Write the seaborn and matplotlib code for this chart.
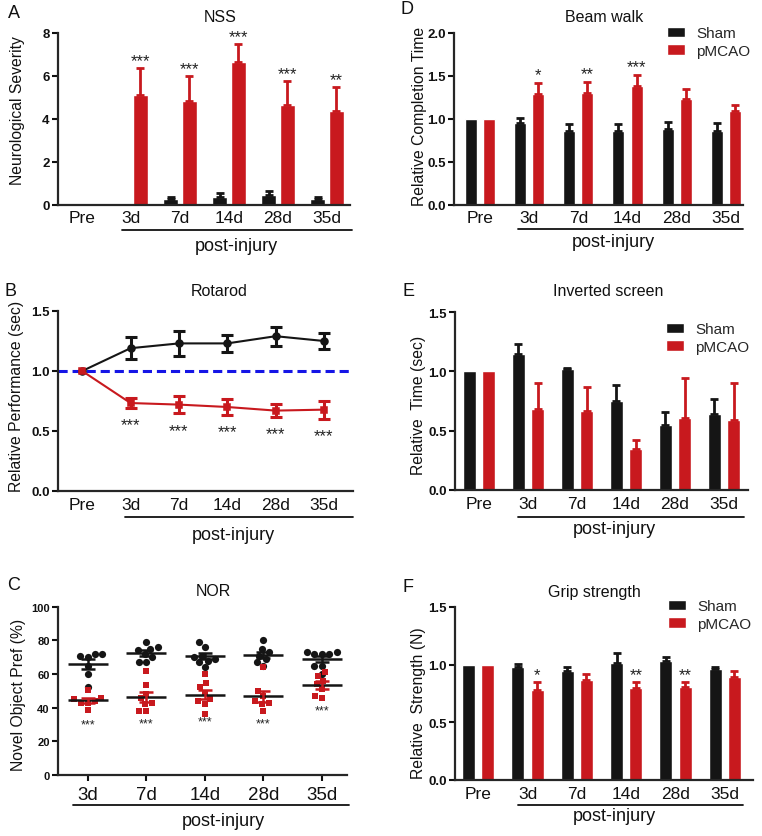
import numpy as np
import pandas as pd
import matplotlib
matplotlib.use("Agg")
import matplotlib.pyplot as plt
import seaborn as sns

# ---------- data ----------
times = ["Pre", "3d", "7d", "14d", "28d", "35d"]
groups = ["Sham", "pMCAO"]

# A: NSS (mean, +SEM)
nss_sham = [0, 0, 0.26, 0.34, 0.45, 0.26]
nss_sham_err = [0, 0, 0.08, 0.19, 0.17, 0.08]
nss_mcao = [0, 5.12, 4.84, 6.63, 4.64, 4.35]
nss_mcao_err = [0, 1.23, 1.14, 0.85, 1.11, 1.12]
nss_stars = ["", "***", "***", "***", "***", "**"]

# B: Rotarod
rota_sham = [1.0, 1.19, 1.23, 1.23, 1.29, 1.25]
rota_sham_err = [0, 0.093, 0.105, 0.07, 0.08, 0.07]
rota_mcao = [1.0, 0.733, 0.72, 0.70, 0.67, 0.678]
rota_mcao_err = [0, 0.04, 0.074, 0.067, 0.055, 0.075]
rota_stars = ["", "***", "***", "***", "***", "***"]

# C: NOR individual animals
nor_times = ["3d", "7d", "14d", "28d", "35d"]
nor_sham = {
    "3d": [72, 72, 71, 70, 65, 60, 52],
    "7d": [76, 75, 74, 79, 67, 67, 72, 70],
    "14d": [79, 76, 71, 70, 69, 64, 68, 67],
    "28d": [80, 75, 73, 71, 69, 67, 65],
    "35d": [73, 73, 72, 72, 65, 60, 65, 72],
}
nor_mcao = {
    "3d": [50.5, 46, 45, 44, 43, 43, 38.5],
    "7d": [62, 53.5, 48, 45.5, 43, 42, 38, 38],
    "14d": [60, 54.5, 52, 49, 45, 44, 42, 36],
    "28d": [64, 50, 47, 44, 43, 42, 38],
    "35d": [61, 59, 56, 54, 51, 47, 46],
}
nor_stars = ["***", "***", "***", "***", "***"]

# D: Beam walk
beam_sham = [1.0, 0.948, 0.862, 0.862, 0.878, 0.862]
beam_sham_err = [0, 0.065, 0.078, 0.078, 0.09, 0.093]
beam_mcao = [1.0, 1.29, 1.297, 1.38, 1.227, 1.087]
beam_mcao_err = [0, 0.124, 0.128, 0.13, 0.117, 0.07]
beam_stars = ["", "*", "**", "***", "", ""]

# E: Inverted screen
inv_sham = [1.0, 1.15, 1.02, 0.75, 0.547, 0.637]
inv_sham_err = [0, 0.08, 0.01, 0.135, 0.107, 0.13]
inv_mcao = [1.0, 0.68, 0.668, 0.344, 0.603, 0.59]
inv_mcao_err = [0, 0.22, 0.198, 0.076, 0.341, 0.315]

# F: Grip strength
grip_sham = [1.0, 0.977, 0.948, 1.015, 1.035, 0.963]
grip_sham_err = [0, 0.029, 0.029, 0.085, 0.03, 0.014]
grip_mcao = [1.0, 0.783, 0.87, 0.80, 0.81, 0.89]
grip_mcao_err = [0, 0.064, 0.05, 0.047, 0.037, 0.059]
grip_stars = ["", "*", "", "**", "**", ""]

BLACK = "#151515"
RED = "#c8191e"
BLUE = "#1515e6"
pal = {"Sham": BLACK, "pMCAO": RED}

sns.set_theme(style="ticks", rc={"axes.linewidth": 1.6})
plt.rcParams["font.family"] = ["Liberation Sans", "DejaVu Sans"]

W, H = 762, 837
fig = plt.figure(figsize=(W / 100, H / 100), dpi=100)


def make_ax(left, right, top, bottom):
    return fig.add_axes([left / W, 1 - bottom / H, (right - left) / W, (bottom - top) / H])


def style_ax(ax, yticks, ylabels, ylabel, lab_xy, xtick_len=0, ysize=9.5, xsize=12.5):
    sns.despine(ax=ax)
    ax.set_yticks(yticks, ylabels, fontweight="bold", fontsize=ysize)
    ax.set_ylim(yticks[0], yticks[-1])
    ax.tick_params(axis="y", length=4, width=1.5, pad=2, colors="#111111")
    ax.tick_params(axis="x", length=xtick_len, width=1.5, labelsize=xsize, pad=4, colors="#111111")
    ax.set_xlabel("")
    ax.set_ylabel(ylabel, fontsize=11.3, color="#111111")
    ax.yaxis.label.set_va("center")
    ax.yaxis.set_label_coords(*lab_xy)


def post_injury(ax, x0, x1, y_line, x_txt, y_txt):
    trans = ax.get_xaxis_transform()
    ax.plot([x0, x1], [y_line, y_line], color="#111111", lw=1.3, transform=trans, clip_on=False)
    ax.text(x_txt, y_txt, "post-injury", transform=trans, ha="center", va="center",
            fontsize=13, color="#111111")


def bar_panel(ax, sham, sham_err, mcao, mcao_err, width, gap, legend=False):
    df = pd.DataFrame({
        "time": times * 2,
        "group": [groups[0]] * len(times) + [groups[1]] * len(times),
        "value": sham + mcao,
    })
    sns.barplot(data=df, x="time", y="value", hue="group", hue_order=groups, palette=pal,
                width=width, gap=gap, errorbar=None, saturation=1, legend=legend, ax=ax)
    tops = []
    for cont, errs, col in zip(ax.containers, [sham_err, mcao_err], [BLACK, RED]):
        xs = [b.get_x() + b.get_width() / 2 for b in cont]
        hs = [b.get_height() for b in cont]
        keep = [i for i, e in enumerate(errs) if e > 0]
        ax.errorbar([xs[i] for i in keep], [hs[i] for i in keep],
                    yerr=[[0] * len(keep), [errs[i] for i in keep]],
                    fmt="none", ecolor=col, elinewidth=2, capsize=3.2, capthick=2)
        tops.append((xs, [h + e for h, e in zip(hs, errs)]))
    return tops


def stars(ax, xs, ys, labels, dy, size=12):
    for x, y, s in zip(xs, ys, labels):
        if s:
            ax.text(x, y + dy, s, ha="center", va="center", fontsize=size, color="#222222")


def legend_at(ax, x, y):
    sns.move_legend(ax, "upper left", bbox_to_anchor=(x, y), frameon=False, title=None,
                    borderaxespad=0, borderpad=0, fontsize=11, handlelength=1.2,
                    handleheight=0.65, handletextpad=0.7, labelspacing=0.25)


# ---------- A: NSS ----------
axA = make_ax(58, 350, 34, 205.7)
topsA = bar_panel(axA, nss_sham, nss_sham_err, nss_mcao, nss_mcao_err, 0.76, 0.2)
axA.set_xlim(-0.49, 5.47)
style_ax(axA, [0, 2, 4, 6, 8], ["0", "2", "4", "6", "8"], "Neurological Severity", (-0.137, 0.557))
stars(axA, topsA[1][0], topsA[1][1], nss_stars, 0.36)
post_injury(axA, 0.82, 5.51, -0.147, 3.16, -0.24)

# ---------- B: Rotarod ----------
axB = make_ax(58, 353, 312, 492)
dfB = pd.DataFrame({
    "time": times * 2,
    "group": [groups[0]] * len(times) + [groups[1]] * len(times),
    "value": rota_sham + rota_mcao,
})
axB.axhline(1.0, color=BLUE, lw=2.2, dashes=(3, 1.6), zorder=1)
sns.pointplot(data=dfB, x="time", y="value", hue="group", hue_order=groups, palette=pal,
              markers=["o", "s"], markersize=5, linewidth=1.5, errorbar=None,
              legend=False, ax=axB)
for vals, errs, col in [(rota_sham, rota_sham_err, BLACK), (rota_mcao, rota_mcao_err, RED)]:
    keep = [i for i, e in enumerate(errs) if e > 0]
    axB.errorbar(keep, [vals[i] for i in keep], yerr=[errs[i] for i in keep], fmt="none",
                 ecolor=col, elinewidth=2.2, capsize=4, capthick=2.2, zorder=4)
axB.set_xlim(-0.5, 5.6)
style_ax(axB, [0, 0.5, 1.0, 1.5], ["0.0", "0.5", "1.0", "1.5"], "Relative Performance (sec)",
         (-0.139, 0.53))
stars(axB, range(len(times)), [m - e for m, e in zip(rota_mcao, rota_mcao_err)], rota_stars,
      -0.14)
post_injury(axB, 0.89, 5.6, -0.144, 3.12, -0.239)

# ---------- C: NOR ----------
axC = make_ax(58, 347, 607.7, 776)
rows = []
for g, d in [("Sham", nor_sham), ("pMCAO", nor_mcao)]:
    for t in nor_times:
        for v in d[t]:
            rows.append({"time": t, "group": g, "value": v})
dfC = pd.DataFrame(rows)
sns.swarmplot(data=dfC[dfC.group == "Sham"], x="time", y="value", order=nor_times,
              color=BLACK, marker="o", size=5.2, linewidth=0, ax=axC, zorder=3)
sns.swarmplot(data=dfC[dfC.group == "pMCAO"], x="time", y="value", order=nor_times,
              color=RED, marker="s", size=5, linewidth=0, ax=axC, zorder=3)
stats = dfC.groupby(["group", "time"])["value"].agg(["mean", "sem"])
for g, col in [("Sham", BLACK), ("pMCAO", RED)]:
    m = [stats.loc[(g, t), "mean"] for t in nor_times]
    s = [stats.loc[(g, t), "sem"] for t in nor_times]
    xs = np.arange(len(nor_times))
    axC.hlines(m, xs - 0.34, xs + 0.34, color=BLACK, lw=1.8, zorder=4)
    axC.errorbar(xs, m, yerr=s, fmt="none", ecolor=col, elinewidth=1.8, capsize=5,
                 capthick=1.8, zorder=4)
    if g == "pMCAO":
        stars(axC, xs, [a - b for a, b in zip(m, s)], nor_stars, -13, size=9)
axC.set_xlim(-0.51, 4.43)
style_ax(axC, [0, 20, 40, 60, 80, 100], ["0", "20", "40", "60", "80", "100"],
         "Novel Object Pref (%)", (-0.138, 0.48), xtick_len=4, ysize=8, xsize=13.5)
post_injury(axC, -0.26, 4.46, -0.178, 2.31, -0.273)

# ---------- D: Beam walk ----------
axD = make_ax(454, 743, 34, 205.7)
topsD = bar_panel(axD, beam_sham, beam_sham_err, beam_mcao, beam_mcao_err, 0.74, 0.34, legend=True)
axD.set_xlim(-0.53, 5.35)
style_ax(axD, [0, 0.5, 1.0, 1.5, 2.0], ["0.0", "0.5", "1.0", "1.5", "2.0"],
         "Relative Completion Time", (-0.121, 0.517))
stars(axD, topsD[1][0], topsD[1][1], beam_stars, 0.1)
legend_at(axD, 0.737, 1.04)
post_injury(axD, 0.77, 5.35, -0.142, 2.72, -0.217)

# ---------- E: Inverted screen ----------
axE = make_ax(455, 748, 313, 491)
bar_panel(axE, inv_sham, inv_sham_err, inv_mcao, inv_mcao_err, 0.78, 0.32, legend=True)
axE.set_xlim(-0.49, 5.49)
style_ax(axE, [0, 0.5, 1.0, 1.5], ["0.0", "0.5", "1.0", "1.5"], "Relative  Time (sec)",
         (-0.123, 0.483))
legend_at(axE, 0.72, 0.944)
post_injury(axE, 0.8, 5.41, -0.152, 2.76, -0.219)

# ---------- F: Grip strength ----------
axF = make_ax(455, 753, 608, 781)
topsF = bar_panel(axF, grip_sham, grip_sham_err, grip_mcao, grip_mcao_err, 0.78, 0.32, legend=True)
axF.set_xlim(-0.47, 5.57)
style_ax(axF, [0, 0.5, 1.0, 1.5], ["0.0", "0.5", "1.0", "1.5"], "Relative  Strength (N)",
         (-0.121, 0.45))
stars(axF, topsF[1][0], topsF[1][1], grip_stars, 0.065)
legend_at(axF, 0.715, 1.046)
post_injury(axF, 0.81, 5.37, -0.145, 2.75, -0.208)

# ---------- titles and panel letters ----------
for (x, y, s) in [(220, 17, "NSS"), (219, 292, "Rotarod"), (213, 592, "NOR"),
                  (604, 17, "Beam walk"), (608, 292, "Inverted screen"), (594, 592, "Grip strength")]:
    fig.text(x / W, 1 - y / H, s, ha="center", va="center", fontsize=11.5, color="#111111")
for (x, y, s) in [(8, 14, "A"), (5, 291, "B"), (7, 585, "C"),
                  (401, 9, "D"), (403, 291, "E"), (403, 588, "F")]:
    fig.text(x / W, 1 - y / H, s, ha="left", va="center", fontsize=13, color="#111111")

fig.savefig("out.png", dpi=100)
